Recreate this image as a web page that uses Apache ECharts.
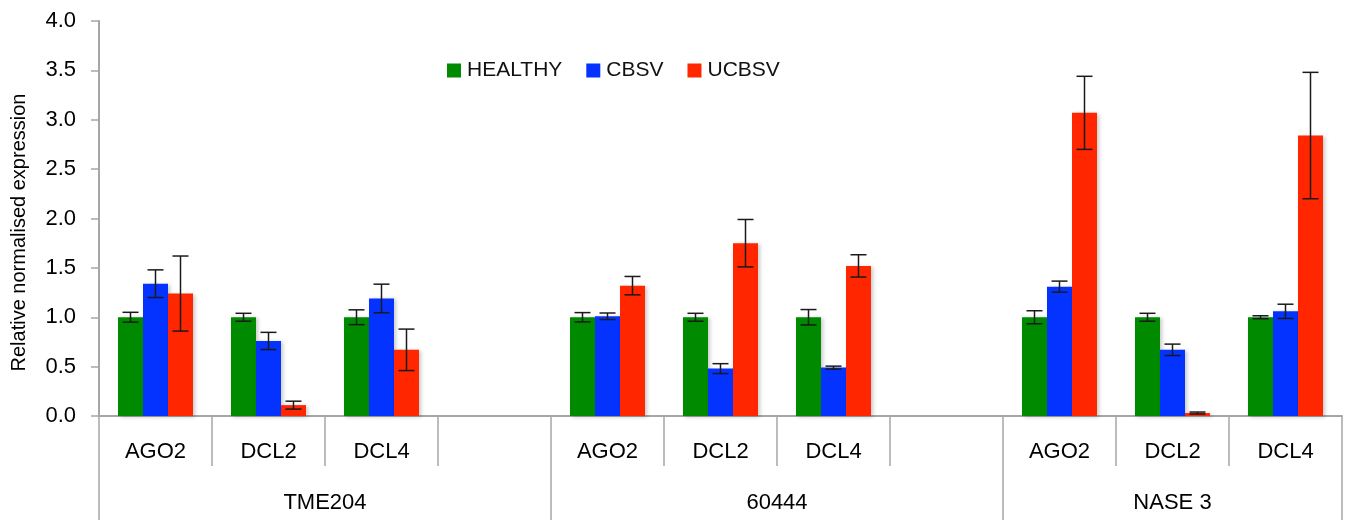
<!DOCTYPE html>
<html>
<head>
<meta charset="utf-8">
<script src="https://cdn.jsdelivr.net/npm/echarts@6/dist/echarts.min.js"></script>
<style>
  html, body { margin: 0; padding: 0; background: #ffffff; }
  #chart { width: 1356px; height: 520px; }
</style>
</head>
<body>
<div id="chart"></div>
<script>
// Gene categories, one empty slot separating each cultivar block
const genes = ['AGO2', 'DCL2', 'DCL4', '', 'AGO2', 'DCL2', 'DCL4', '', 'AGO2', 'DCL2', 'DCL4'];

// Cultivar blocks: name, first slot, slot after the last one
const cultivars = ['TME204', '60444', 'NASE 3'];
const cultivarStart = [0, 4, 8];
const cultivarEnd = [4, 8, 11];

// Relative normalised expression (mean) and error (± value)
const healthy    = [1.00, 1.00, 1.00, null, 1.00, 1.00, 1.00, null, 1.00, 1.00, 1.00];
const healthyErr = [0.05, 0.04, 0.075, null, 0.047, 0.04, 0.078, null, 0.066, 0.04, 0.015];
const cbsv       = [1.34, 0.76, 1.19, null, 1.01, 0.48, 0.49, null, 1.31, 0.67, 1.06];
const cbsvErr    = [0.14, 0.087, 0.145, null, 0.033, 0.05, 0.015, null, 0.056, 0.058, 0.072];
const ucbsv      = [1.24, 0.11, 0.67, null, 1.32, 1.75, 1.52, null, 3.07, 0.03, 2.84];
const ucbsvErr   = [0.38, 0.04, 0.21, null, 0.093, 0.24, 0.113, null, 0.37, 0.01, 0.64];

const seriesNames = ['HEALTHY', 'CBSV', 'UCBSV'];
const seriesColors = ['#008a00', '#0433ff', '#ff2600'];
const seriesValues = [healthy, cbsv, ucbsv];
const seriesErrors = [healthyErr, cbsvErr, ucbsvErr];

const BAR_W = 25;
const FONT = '"Liberation Sans", Arial, sans-serif';
const AXIS_GREY = '#a6a6a6';

function errorData(values, errs) {
  const out = [];
  values.forEach((v, i) => { if (v != null) out.push([i, v, errs[i]]); });
  return out;
}

// Whisker drawn at the centre of the k-th bar in a category
function errorRenderer(k) {
  return function (params, api) {
    const i = api.value(0), v = api.value(1), e = api.value(2);
    const x = api.coord([i, v])[0] + (k - 1) * BAR_W;
    const yTop = api.coord([i, v + e])[1];
    const yBot = api.coord([i, Math.max(0, v - e)])[1];
    const hw = 8;
    const style = { stroke: '#1a1a1a', lineWidth: 1.5 };
    return {
      type: 'group',
      children: [
        { type: 'line', shape: { x1: x, y1: yTop, x2: x, y2: yBot }, style },
        { type: 'line', shape: { x1: x - hw, y1: yTop, x2: x + hw, y2: yTop }, style },
        { type: 'line', shape: { x1: x - hw, y1: yBot, x2: x + hw, y2: yBot }, style }
      ]
    };
  };
}

const barSeries = seriesNames.map((name, k) => ({
  name,
  type: 'bar',
  xAxisIndex: 0,
  yAxisIndex: 0,
  data: seriesValues[k],
  barWidth: BAR_W,
  barGap: '0%',
  itemStyle: {
    color: seriesColors[k],
    shadowBlur: 4,
    shadowColor: 'rgba(0,0,0,0.22)',
    shadowOffsetX: 2,
    shadowOffsetY: 1
  },
  emphasis: { disabled: true },
  z: 2
}));

const errSeries = seriesNames.map((name, k) => ({
  name: name + ' error',
  type: 'custom',
  xAxisIndex: 0,
  yAxisIndex: 0,
  data: errorData(seriesValues[k], seriesErrors[k]),
  renderItem: errorRenderer(k),
  encode: { x: 0, y: [1, 2] },
  silent: true,
  z: 5
}));

const cultivarMid = cultivarStart.map((s, i) => (s + cultivarEnd[i]) / 2);
const cultivarTicks = cultivarStart.concat([cultivarEnd[cultivarEnd.length - 1]]);

const chart = echarts.init(document.getElementById('chart'), null, { renderer: 'canvas' });
chart.setOption({
  animation: false,
  backgroundColor: '#ffffff',
  textStyle: { fontFamily: FONT },
  grid: { left: 99, right: 14, top: 21, bottom: 104, containLabel: false },
  legend: {
    data: seriesNames,
    left: 442,
    top: 55,
    icon: 'rect',
    itemWidth: 14,
    itemHeight: 14,
    itemGap: 24,
    textStyle: { fontFamily: FONT, fontSize: 21, color: '#111', padding: [0, 0, 0, 1] },
    itemStyle: { shadowBlur: 0, shadowOffsetX: 0, shadowOffsetY: 0 }
  },
  xAxis: [
    {
      type: 'category',
      data: genes,
      position: 'bottom',
      boundaryGap: true,
      axisLine: { show: true, lineStyle: { color: AXIS_GREY, width: 2 } },
      axisTick: { show: true, interval: 0, alignWithLabel: false, length: 50,
                  lineStyle: { color: AXIS_GREY, width: 1.5 } },
      axisLabel: { interval: 0, margin: 25, fontFamily: FONT, fontSize: 22, color: '#000' },
      splitLine: { show: false }
    },
    {
      type: 'value',
      position: 'bottom',
      min: 0,
      max: genes.length,
      axisLine: { show: false },
      axisTick: { show: true, length: 104, customValues: cultivarTicks,
                  lineStyle: { color: AXIS_GREY, width: 1.5 } },
      axisLabel: {
        customValues: cultivarMid,
        margin: 76,
        fontFamily: FONT,
        fontSize: 22,
        color: '#000',
        formatter: (v) => {
          const idx = cultivarMid.findIndex(m => Math.abs(m - v) < 1e-6);
          return idx >= 0 ? cultivars[idx] : '';
        }
      },
      splitLine: { show: false }
    }
  ],
  yAxis: {
    type: 'value',
    min: 0,
    max: 4,
    interval: 0.5,
    name: 'Relative normalised expression',
    nameLocation: 'middle',
    nameGap: 70,
    nameRotate: 90,
    nameTextStyle: { fontFamily: FONT, fontSize: 20, color: '#000', padding: [0, 28, 0, 0] },
    axisLine: { show: true, lineStyle: { color: AXIS_GREY, width: 2 } },
    axisTick: { show: true, inside: false, length: 8, lineStyle: { color: AXIS_GREY, width: 1.5 } },
    axisLabel: { margin: 23, fontFamily: FONT, fontSize: 22, color: '#000',
                 formatter: (v) => v.toFixed(1) },
    splitLine: { show: false }
  },
  series: barSeries.concat(errSeries)
});
</script>
</body>
</html>
